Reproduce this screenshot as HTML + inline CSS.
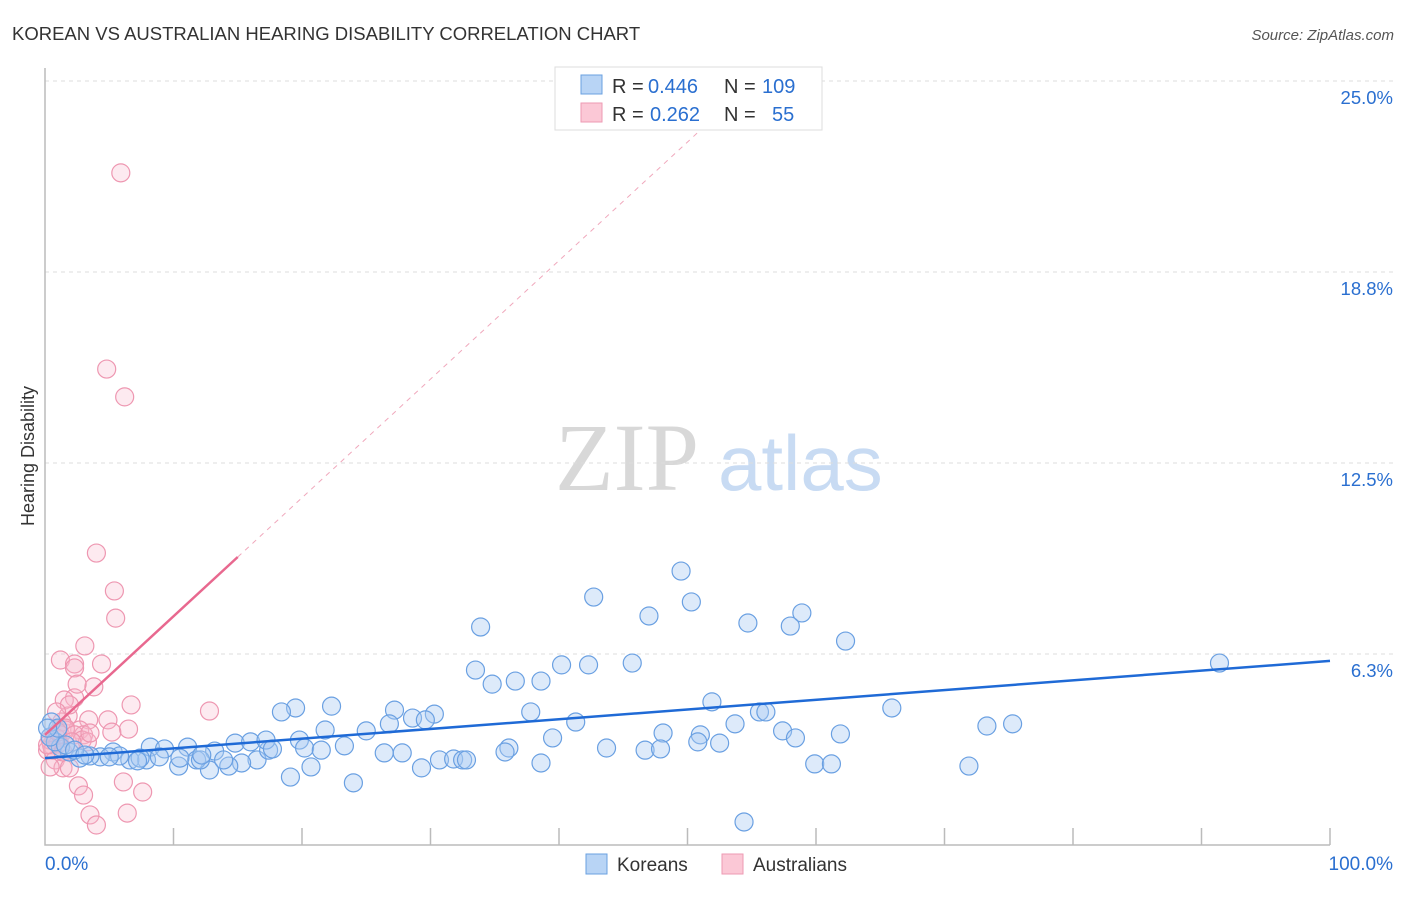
<!DOCTYPE html>
<html><head><meta charset="utf-8"><style>
body{margin:0;background:#fff;font-family:"Liberation Sans",sans-serif}
svg text{font-family:"Liberation Sans",sans-serif}
</style></head><body>
<svg id="c" width="1406" height="892">
<text x="12" y="40" font-size="18.5" fill="#333">KOREAN VS AUSTRALIAN HEARING DISABILITY CORRELATION CHART</text>
<text x="1394" y="40" font-size="15" fill="#555" font-style="italic" text-anchor="end">Source: ZipAtlas.com</text>
<text x="0" y="0" transform="translate(34,456) rotate(-90)" font-size="18" fill="#333" text-anchor="middle">Hearing Disability</text>
<text x="555" y="490" font-size="96" fill="#d8d8d8" style="font-family:'Liberation Serif',serif">ZIP</text>
<text x="718" y="490" font-size="78" fill="#c8dbf3">atlas</text>
<g id="grid"></g><g id="axes"></g><g id="pts"></g><g id="trend"></g>
<g>
<rect x="555" y="67" width="267" height="63" fill="#fff" stroke="#ddd"/>
<rect x="581" y="75" width="21" height="19" fill="#b8d4f5" stroke="#6aa0e0"/>
<rect x="581" y="103" width="21" height="19" fill="#fbc8d6" stroke="#ee9ab3"/>
<text y="93" font-size="20" fill="#333"><tspan x="612">R =</tspan><tspan x="648" fill="#2a6fd0">0.446</tspan><tspan x="724">N =</tspan><tspan x="762" fill="#2a6fd0">109</tspan></text>
<text y="121" font-size="20" fill="#333"><tspan x="612">R =</tspan><tspan x="650" fill="#2a6fd0">0.262</tspan><tspan x="724">N =</tspan><tspan x="772" fill="#2a6fd0">55</tspan></text>
</g>
<g>
<rect x="586" y="854" width="21" height="20" fill="#b8d4f5" stroke="#6aa0e0"/>
<text x="617" y="871" font-size="19" fill="#333">Koreans</text>
<rect x="722" y="854" width="21" height="20" fill="#fbc8d6" stroke="#ee9ab3"/>
<text x="753" y="871" font-size="19" fill="#333">Australians</text>
</g>
</svg>
<script>
const yTicks=[25.0,18.75,12.5,6.25];
const yTickLabels=["25.0%","18.8%","12.5%","6.3%"];
const xTickVals=[0,10,20,30,40,50,60,70,80,90,100];
const koreansX=[91.4,49.5,42.7,50.3,47.0,54.7,58.9,58.0,62.3,33.9,33.5,40.2,42.3,45.7,34.8,36.6,38.6,51.9,65.9,19.5,18.4,22.3,27.2,28.6,30.3,29.6,37.8,41.3,55.6,56.1,73.3,75.3,53.7,48.1,51.0,21.8,25.0,26.8,39.5,43.7,46.7,47.9,50.8,52.5,57.4,58.4,61.9,36.1,35.8,19.8,23.3,20.2,21.5,26.4,27.8,30.7,31.8,32.5,32.8,29.3,38.6,59.9,61.2,71.9,19.1,24.0,54.4,20.7,16.5,17.4,15.3,14.3,12.8,10.4,8.2,9.3,11.1,13.2,14.8,16.0,17.2,17.7,11.8,12.1,7.9,6.6,5.3,4.3,3.5,2.7,1.9,1.2,0.8,0.4,0.5,1.0,1.6,2.3,5.8,7.4,8.9,10.5,12.2,13.9,7.2,5.0,3.1,0.2];
const koreansY=[6.51,9.52,8.67,8.51,8.05,7.82,8.15,7.72,7.23,7.69,6.28,6.45,6.45,6.51,5.82,5.92,5.92,5.24,5.04,5.04,4.91,5.10,4.97,4.71,4.84,4.65,4.91,4.58,4.91,4.91,4.45,4.52,4.52,4.22,4.16,4.32,4.29,4.52,4.06,3.73,3.66,3.70,3.93,3.89,4.29,4.06,4.19,3.73,3.60,3.99,3.80,3.73,3.66,3.57,3.57,3.34,3.37,3.34,3.34,3.08,3.24,3.21,3.21,3.14,2.78,2.59,1.31,3.11,3.34,3.66,3.24,3.14,3.01,3.14,3.76,3.70,3.76,3.63,3.89,3.93,3.99,3.70,3.34,3.34,3.34,3.34,3.60,3.44,3.47,3.40,3.60,3.76,3.93,4.09,4.58,4.38,3.83,3.66,3.47,3.40,3.44,3.40,3.50,3.34,3.31,3.44,3.50,4.38];
const ausX=[5.9,4.8,6.2,4.0,5.4,5.5,3.1,1.2,2.3,2.3,4.4,2.3,1.5,3.8,2.5,6.7,12.8,1.8,1.3,3.4,4.9,6.5,5.2,2.7,3.0,1.6,0.9,0.5,0.2,0.8,1.4,1.9,2.6,3.0,6.1,7.6,3.5,4.0,6.4,0.4,1.0,1.2,1.6,2.3,2.9,0.6,0.2,1.9,0.9,3.3,3.5,1.4,0.4,1.0,2.1];
const ausY=[22.55,16.13,15.22,10.11,8.87,7.98,7.07,6.61,6.48,6.35,6.48,5.37,5.30,5.73,5.82,5.14,4.94,4.78,4.58,4.65,4.65,4.35,4.25,4.32,4.16,4.32,4.06,3.83,3.66,3.34,3.08,3.08,2.49,2.19,2.62,2.29,1.54,1.21,1.60,3.99,3.86,4.16,4.38,4.16,3.99,3.66,3.83,5.14,4.91,3.93,4.22,3.60,3.11,4.25,3.93];
const koreanTrend=[3.40,6.58];
const ausTrend=[4.16,0.388];
const NS="http://www.w3.org/2000/svg";
function X(v){return 45+v*12.85;}
function Y(v){return 862-v*30.56;}
function mk(t,a,p){const e=document.createElementNS(NS,t);for(const k in a)e.setAttribute(k,a[k]);p.appendChild(e);return e;}
const grid=document.getElementById('grid'),axes=document.getElementById('axes'),pts=document.getElementById('pts'),tr=document.getElementById('trend');
yTicks.forEach((v,i)=>{
 const l=mk('line',{x1:45,x2:1395,y1:Y(v)-17,y2:Y(v)-17,stroke:'#ddd','stroke-dasharray':'4,4'},grid);
 
 
 const t=mk('text',{x:1393,y:Y(v)+6,'font-size':18.5,fill:'#2a6fd0','text-anchor':'end'},grid);
 t.textContent=yTickLabels[i];
 
 
});
const ax=mk('path',{d:'M45,68V845H1330',fill:'none',stroke:'#bbb','stroke-width':1.5},axes);


xTickVals.forEach(v=>{if(v===0)return;const l=mk('line',{x1:X(v),x2:X(v),y1:828,y2:845,stroke:'#bbb','stroke-width':1.5},axes);
 
 });
let t0=mk('text',{x:45,y:870,'font-size':19,fill:'#2a6fd0'},axes);t0.textContent='0.0%';


let t1=mk('text',{x:1393,y:870,'font-size':19,fill:'#2a6fd0','text-anchor':'end'},axes);t1.textContent='100.0%';


ausX.forEach((x,i)=>{const c=mk('circle',{cx:X(x),cy:Y(ausY[i]),r:9,fill:'rgba(248,185,205,0.3)',stroke:'#ee97b1','stroke-width':1.2},pts);
 
 });
koreansX.forEach((x,i)=>{const c=mk('circle',{cx:X(x),cy:Y(koreansY[i]),r:9,fill:'rgba(170,202,242,0.4)',stroke:'#6aa0e2','stroke-width':1.2},pts);
 
 });
const kl=mk('line',{x1:X(0),y1:Y(koreanTrend[0]),x2:X(100),y2:Y(koreanTrend[1]),stroke:'#1f6ad6','stroke-width':2.5},tr);


const al=mk('line',{x1:X(0),y1:Y(ausTrend[0]),x2:X(15),y2:Y(ausTrend[0]+ausTrend[1]*15),stroke:'#e8688f','stroke-width':2.5},tr);


const ad=mk('line',{x1:X(15),y1:Y(ausTrend[0]+ausTrend[1]*15),x2:X(54),y2:Y(ausTrend[0]+ausTrend[1]*54),stroke:'#f0a8bc','stroke-width':1,'stroke-dasharray':'5,5'},tr);


</script>
</body></html>
